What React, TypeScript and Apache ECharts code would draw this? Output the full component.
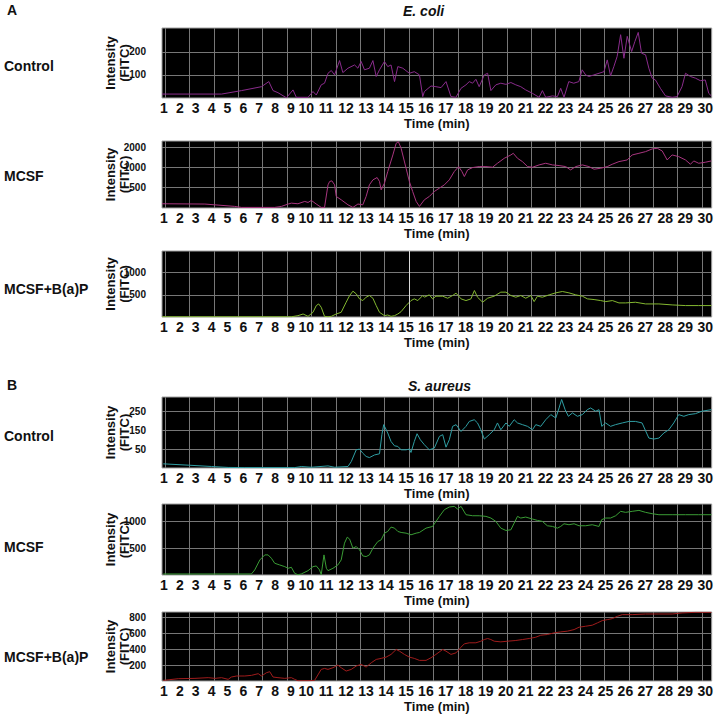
import React, { useEffect, useRef } from 'react';
import * as echarts from 'echarts';

// ---------- data ----------
const timeLabels = ['1','2','3','4','5','6','7','8','9','10','11','12','13','14','15','16','17','18','19','20','21','22','23','24','25','26','27','28','29','30'];

const ecoliControlTicks = [100, 200];
const ecoliMcsfTicks = [500, 1000, 2000];
const ecoliBapTicks = [500, 1000];
const saureusControlTicks = [50, 150, 250];
const saureusMcsfTicks = [500, 1000];
const saureusBapTicks = [200, 400, 600, 800];

const ecoliControl: [number, number][] = [
  [0,17],[3.25,17],[4.34,32],[5.43,49],[5.83,71],[6.06,32],[6.33,23],[6.79,1],[7.15,35],[7.33,3],[7.97,3],[8.24,28],[8.42,13],[8.69,57],[8.87,64],[9.06,107],[9.24,119],[9.42,100],[9.69,162],[9.87,110],[10.15,129],[10.51,143],[10.69,129],[10.87,158],[11.05,122],[11.32,129],[11.51,162],[11.69,93],[11.87,122],[12.14,158],[12.32,136],[12.5,143],[12.69,71],[12.87,136],[13.14,129],[13.5,107],[13.77,114],[14.05,100],[14.23,6],
  [14.32,28],[14.68,52],[14.95,49],[15.23,45],[15.5,71],[15.77,6],[16.04,3],[16.32,42],[16.59,57],[16.77,71],[16.95,64],[17.13,81],[17.31,49],[17.59,100],[17.77,107],[17.95,32],[18.22,57],[18.49,64],[18.77,59],[19.04,67],[19.31,57],[19.58,49],[19.85,35],[20.22,20],[20.58,3],[20.76,32],[20.94,3],[21.31,9],[21.58,6],[21.76,42],[21.94,3],[22.2,71],[22.47,64],[22.75,71],[22.93,122],[23.12,100],[23.3,93],[23.57,100],[23.85,107],[24.12,114],[24.3,165],[24.48,96],[24.66,136],[24.84,180],[25.03,274],[25.21,172],[25.39,267],[25.63,201],[25.81,245],[25.99,284],[26.17,194],[26.39,187],[26.57,129],[26.75,86],[26.93,78],[27.2,42],[27.48,9],[27.84,3],[28.11,6],[28.38,49],[28.57,107],[28.84,93],[29.11,86],[29.38,75],[29.65,78],[29.84,20],[29.98,9]
];

const ecoliMcsf: [number, number][] = [
  [0,284],[2.34,281],[3.97,259],[4.34,250],[6.15,250],[6.52,259],[6.88,281],[7.06,290],[7.42,284],[7.79,308],[7.97,297],[8.15,319],[8.42,281],[8.69,250],[8.87,250],[9.06,548],[9.15,616],[9.27,630],[9.42,548],[9.51,366],[9.78,326],[10.15,274],[10.42,250],[10.69,281],[10.96,274],[11.14,366],[11.32,548],[11.51,652],[11.74,707],[11.87,616],[11.96,461],[12.14,581],[12.32,870],[12.6,1551],[12.78,2324],[12.9,2462],[13.05,1954],[13.32,977],[13.5,616],[13.68,435],[13.87,308],[14.05,259],
  [14.32,326],[14.59,366],[14.86,435],[15.14,489],[15.41,548],[15.68,652],[15.95,870],[16.19,1035],[16.37,870],[16.5,732],[16.68,922],[16.95,1000],[17.31,1035],[17.68,1035],[18.04,1012],[18.31,1162],[18.68,1382],[19.04,1551],[19.17,1643],[19.4,1382],[19.67,1231],[19.95,1035],[20.22,1012],[20.58,1097],[20.94,1162],[21.31,1097],[21.67,1072],[22.03,1035],[22.3,922],[22.58,1035],[22.94,1097],[23.3,1035],[23.58,944],[23.94,977],[24.3,1035],[24.57,1122],[24.94,1231],[25.39,1304],[25.66,1551],[26.03,1643],[26.39,1741],[26.75,1911],[27.03,1954],[27.3,1782],[27.57,1304],[27.84,1551],[28.2,1464],[28.57,1304],[28.84,1122],[29.02,1260],[29.29,1162],[29.65,1203],[29.98,1260]
];

const ecoliBap: [number, number][] = [
  [0,5],[7.06,5],[7.42,30],[7.7,68],[7.97,15],[8.24,106],[8.42,258],[8.55,295],[8.69,220],[8.87,15],[9.06,5],[9.24,15],[9.51,68],[9.78,106],[10.05,333],[10.24,485],[10.42,583],[10.6,523],[10.78,409],[10.96,371],[11.14,447],[11.32,485],[11.51,424],[11.69,258],[11.87,106],[12.14,30],[12.32,45],[12.5,15],[12.69,30],[12.87,68],[13.05,121],[13.32,258],[13.59,371],[13.77,409],[13.96,371],[14.23,485],
  [14.32,447],[14.59,500],[14.77,409],[14.95,470],[15.32,470],[15.59,424],[15.86,485],[16.05,538],[16.32,409],[16.59,371],[16.86,409],[17.05,598],[17.22,447],[17.5,333],[17.77,424],[18.13,470],[18.49,561],[18.77,561],[19.04,485],[19.31,447],[19.58,485],[19.85,424],[20.13,485],[20.31,348],[20.49,470],[20.76,447],[21.13,500],[21.49,545],[21.85,576],[22.21,545],[22.58,500],[22.94,470],[23.22,409],[23.58,394],[23.94,371],[24.22,348],[24.58,371],[24.94,318],[25.3,318],[25.84,333],[26.39,295],[27.12,295],[27.84,273],[28.57,258],[29.29,258],[29.98,258]
];

const saureusControl: [number, number][] = [
  [0.07,-28],[1.43,-35],[2.7,-42],[3.61,-47],[4.52,-48],[7.24,-48],[7.6,-42],[8.15,-46],[9.06,-39],[9.42,-46],[10.15,-42],[10.33,-16],[10.6,46],[10.78,50],[10.96,28],[11.14,11],[11.32,5],[11.6,19],[11.87,25],[12.0,126],[12.1,179],[12.32,135],[12.5,90],[12.69,67],[12.87,64],[13.05,46],[13.32,46],[13.5,50],[13.59,32],[13.77,90],[13.92,131],[14.1,99],[14.32,73],
  [14.59,46],[14.86,55],[15.14,117],[15.32,126],[15.5,60],[15.68,99],[15.86,170],[16.05,179],[16.32,143],[16.59,170],[16.77,196],[17.04,205],[17.22,188],[17.4,152],[17.59,103],[17.86,126],[18.13,152],[18.31,188],[18.49,152],[18.77,188],[18.95,170],[19.22,205],[19.4,188],[19.67,179],[19.95,170],[20.22,152],[20.4,179],[20.67,170],[20.94,205],[21.22,232],[21.49,214],[21.67,267],[21.81,312],[22.0,258],[22.18,223],[22.4,241],[22.67,223],[22.94,232],[23.21,258],[23.39,267],[23.67,250],[23.85,258],[24.0,170],[24.21,188],[24.48,170],[24.75,179],[25.12,188],[25.48,196],[25.84,196],[26.2,188],[26.57,108],[26.84,103],[27.12,108],[27.39,135],[27.66,152],[27.93,188],[28.2,232],[28.48,223],[28.75,232],[29.11,237],[29.47,250],[29.98,258]
];

const saureusMcsf: [number, number][] = [
  [0.07,19],[4.88,19],[5.06,94],[5.34,281],[5.61,375],[5.79,375],[5.97,313],[6.15,219],[6.42,188],[6.7,156],[6.88,125],[7.06,144],[7.24,31],[7.42,5],[7.6,19],[7.97,81],[8.24,156],[8.42,169],[8.6,94],[8.69,5],[8.84,375],[8.97,125],[9.06,81],[9.33,125],[9.6,188],[9.78,281],[9.96,594],[10.11,706],[10.24,669],[10.42,500],[10.6,531],[10.78,469],[10.96,356],[11.14,344],[11.32,375],[11.51,500],[11.78,625],[11.96,656],[12.14,781],[12.32,813],[12.5,894],[12.69,875],[12.87,813],[13.05,794],[13.32,781],[13.59,750],[13.87,781],[14.05,794],
  [14.41,875],[14.77,906],[15.14,1094],[15.41,1219],[15.68,1269],[15.95,1281],[16.13,1231],[16.32,1281],[16.59,1125],[16.95,1106],[17.31,1106],[17.68,1094],[17.95,1063],[18.22,1000],[18.49,875],[18.77,831],[19.04,844],[19.22,969],[19.4,1094],[19.58,1063],[19.85,1081],[20.22,1044],[20.49,1019],[20.76,1000],[21.03,919],[21.31,906],[21.58,875],[21.76,906],[21.94,956],[22.21,938],[22.49,956],[22.76,919],[23.12,919],[23.48,938],[23.85,906],[23.99,1031],[24.21,1063],[24.48,1063],[24.76,1106],[25.03,1188],[25.3,1169],[25.66,1188],[26.03,1206],[26.39,1169],[26.75,1144],[27.12,1125],[27.84,1125],[28.57,1125],[29.29,1125],[29.98,1125]
];

const saureusBap: [number, number][] = [
  [0.07,8],[0.89,29],[1.8,33],[2.52,42],[2.89,33],[3.25,42],[3.61,21],[3.79,50],[4.07,63],[4.52,63],[4.88,71],[5.25,92],[5.43,63],[5.7,104],[5.88,117],[6.06,50],[6.33,42],[6.7,33],[7.06,42],[7.24,21],[7.42,3],[7.97,3],[8.33,8],[8.69,146],[8.87,158],[9.06,146],[9.33,167],[9.6,200],[9.78,167],[10.05,125],[10.33,146],[10.6,188],[10.87,209],[11.14,175],[11.42,229],[11.69,271],[11.96,284],[12.23,300],[12.5,334],[12.78,396],[12.96,375],[13.23,334],[13.5,300],[13.77,284],[14.05,259],
  [14.41,259],[14.68,292],[14.95,334],[15.32,396],[15.5,375],[15.77,334],[16.05,354],[16.32,425],[16.5,467],[16.77,480],[17.13,480],[17.4,500],[17.59,521],[17.77,534],[17.95,521],[18.13,500],[18.49,492],[18.86,500],[19.31,509],[19.67,521],[20.04,534],[20.4,550],[20.67,575],[21.03,584],[21.4,605],[21.76,617],[22.12,626],[22.49,646],[22.76,676],[23.12,688],[23.48,701],[23.76,730],[24.03,759],[24.3,771],[24.58,784],[24.85,813],[25.12,834],[25.66,834],[26.39,842],[27.12,842],[27.84,842],[28.39,855],[29.11,863],[29.98,863]
];

const cursorTime = 13.5;

// ---------- layout / style ----------
const FONT = '"Liberation Sans", Arial, sans-serif';
const NARROW = '"Liberation Sans Narrow", "Arial Narrow", "Liberation Sans", Arial, sans-serif';
const PLOT_LEFT = 162;
const PLOT_RIGHT = 713;
const PLOT_W = PLOT_RIGHT - PLOT_LEFT;
const X_MAX = 30;
const pxToT = (px: number) => ((px - PLOT_LEFT) / PLOT_W) * X_MAX;
// label centres as drawn by the original software (text row, not aligned with grid)
const labelPx = (k: number) => (k <= 9 ? 164 + (k - 1) * 15.9 : 306.5 + (k - 10) * 20);
const labelTimes = timeLabels.map((_, i) => pxToT(labelPx(i + 1)));
const gridTimes = Array.from({ length: 23 }, (_, j) => pxToT(165 + j * 24.47));

const panels = [
  { name: 'Control', data: ecoliControl, color: '#8a2c8c', top: 28, height: 70, ticks: ecoliControlTicks, y: { type: 'value', min: 0, max: 303 }, labelY: 67 },
  { name: 'MCSF', data: ecoliMcsf, color: '#a8357f', top: 141, height: 67, ticks: ecoliMcsfTicks, y: { type: 'log', logBase: 10, min: 245, max: 2520 }, labelY: 177 },
  { name: 'MCSF+B(a)P', data: ecoliBap, color: '#84b830', top: 251, height: 66, ticks: ecoliBapTicks, y: { type: 'value', min: 0, max: 1490 }, labelY: 290, cursor: true },
  { name: 'Control', data: saureusControl, color: '#2f9ea3', top: 397, height: 71, ticks: saureusControlTicks, y: { type: 'value', min: -50, max: 325 }, labelY: 437 },
  { name: 'MCSF', data: saureusMcsf, color: '#3a9c35', top: 504, height: 71, ticks: saureusMcsfTicks, y: { type: 'value', min: 0, max: 1325 }, labelY: 548 },
  { name: 'MCSF+B(a)P', data: saureusBap, color: '#a01c1c', top: 612, height: 69, ticks: saureusBapTicks, y: { type: 'value', min: 0, max: 867 }, labelY: 658 },
];

const GRID_COLOR = '#777777';

function buildOption() {
  const grid = panels.map((p) => ({
    left: PLOT_LEFT, width: PLOT_W, top: p.top, height: p.height,
    show: true, backgroundColor: '#000', borderColor: '#a0a0a0', borderWidth: 1,
  }));
  const xAxis = panels.map((p, i) => ({
    gridIndex: i, type: 'value', min: 0, max: X_MAX,
    name: 'Time (min)', nameLocation: 'middle', nameGap: 19, nameMoveOverlap: false,
    nameTextStyle: { fontFamily: FONT, fontWeight: 'bold', fontSize: 13, color: '#111' },
    axisLine: { show: false },
    axisTick: { show: false, customValues: gridTimes },
    splitLine: { show: true, lineStyle: { color: GRID_COLOR, width: 1 } },
    axisLabel: {
      customValues: labelTimes, margin: 3,
      fontFamily: NARROW, fontWeight: 'bold', fontSize: 14, color: '#111',
      formatter: (v: number) => {
        const idx = labelTimes.findIndex((t) => Math.abs(t - v) < 1e-6);
        return idx >= 0 ? timeLabels[idx] : '';
      },
    },
  }));
  const yAxis = panels.map((p, i) => ({
    gridIndex: i, ...p.y,
    name: 'Intensity\n(FITC)', nameLocation: 'middle', nameRotate: 90, nameGap: 31, nameMoveOverlap: false,
    nameTextStyle: { fontFamily: FONT, fontWeight: 'bold', fontSize: 13, lineHeight: 14, color: '#111' },
    axisLine: { show: false },
    axisTick: { show: false, customValues: p.ticks },
    splitLine: { show: true, lineStyle: { color: GRID_COLOR, width: 1 } },
    axisLabel: {
      customValues: p.ticks, margin: 16, fontFamily: NARROW, fontWeight: 'bold', fontSize: 10, color: '#111',
      formatter: (v: number) => String(Math.round(v)),
    },
  }));
  const series = panels.map((p, i) => ({
    type: 'line', xAxisIndex: i, yAxisIndex: i, data: p.data,
    showSymbol: false, symbol: 'none', lineStyle: { color: p.color, width: 1 }, itemStyle: { color: p.color },
    ...(p.cursor ? {
      markLine: { silent: true, symbol: 'none', label: { show: false },
        lineStyle: { color: '#d8d8d8', width: 1, type: 'solid' }, data: [{ xAxis: cursorTime }] },
    } : {}),
  }));
  const texts: any[] = [
    { type: 'text', left: 7, top: 3, style: { text: 'A', font: `bold 14px ${FONT}`, fill: '#111' } },
    { type: 'text', left: 403, top: 4, style: { text: 'E. coli', font: `italic bold 14px ${FONT}`, fill: '#111' } },
    { type: 'text', left: 7, top: 378, style: { text: 'B', font: `bold 14px ${FONT}`, fill: '#111' } },
    { type: 'text', left: 408, top: 379, style: { text: 'S. aureus', font: `italic bold 14px ${FONT}`, fill: '#111' } },
  ];
  panels.forEach((p) => {
    texts.push({ type: 'text', left: 4, top: p.labelY - 8, style: { text: p.name, font: `bold 14px ${FONT}`, fill: '#111' } });
  });
  return {
    animation: false,
    backgroundColor: '#fff',
    grid, xAxis, yAxis, series,
    graphic: texts,
  };
}

export default function App() {
  const ref = useRef<HTMLDivElement>(null);
  useEffect(() => {
    if (!ref.current) return;
    const chart = echarts.init(ref.current, undefined, { renderer: 'svg' });
    chart.setOption(buildOption() as any);
    return () => chart.dispose();
  }, []);
  return <div ref={ref} style={{ position: 'absolute', left: 0, top: 0, width: 716, height: 717 }} />;
}
